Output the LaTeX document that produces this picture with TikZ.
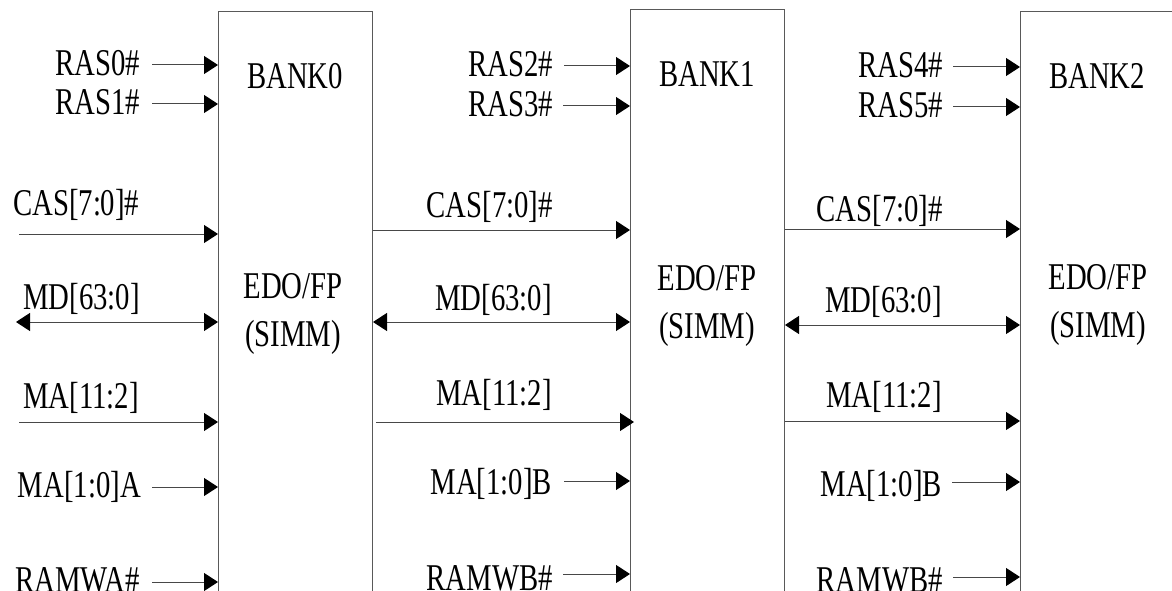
\documentclass[tikz,border=0pt]{standalone}
\usepackage{fontspec}
\setmainfont{Liberation Serif}[FakeStretch=0.76]
\usetikzlibrary{arrows.meta}
\begin{document}
\begin{tikzpicture}[x=1pt,y=-1pt,
  bankbox/.style={draw=black!65, line width=1pt, minimum width=154pt,
    minimum height=640pt, anchor=north west, inner sep=0pt},
  lbl/.style={inner sep=0pt, font=\fontsize{37.8pt}{46pt}\selectfont},
  tipa/.tip={Triangle[length=14pt,width=18pt,color=black]},
  sig/.style={draw=black!72, line width=1pt, -tipa},
  bus/.style={draw=black!72, line width=1pt, tipa-tipa},
]
\useasboundingbox (0,0) rectangle (1172,591);
\clip (0,0) rectangle (1172,591);

% memory banks
\node[bankbox] (bank0) at (218,11) {};
\node[bankbox] (bank1) at (630,9) {};
\node[bankbox] (bank2) at (1020,11) {};

\node[lbl, anchor=base] (b0name) at (295,89) {BANK0};
\node[lbl, anchor=base] (b0t1) at (293,298) {EDO/FP};
\node[lbl, anchor=base] (b0t2) at (293,346) {(SIMM)};
\node[lbl, anchor=base] (b1name) at (707,87) {BANK1};
\node[lbl, anchor=base] (b1t1) at (707,290) {EDO/FP};
\node[lbl, anchor=base] (b1t2) at (707,338) {(SIMM)};
\node[lbl, anchor=base] (b2name) at (1097,89) {BANK2};
\node[lbl, anchor=base] (b2t1) at (1098,289) {EDO/FP};
\node[lbl, anchor=base] (b2t2) at (1098,337) {(SIMM)};

% ---- bank 0 inputs
\node[lbl, anchor=base east] (ras0) at (140,76) {RAS0\#};
\node[lbl, anchor=base east] (ras1) at (140,115) {RAS1\#};
\node[lbl, anchor=base west] (cas0) at (13,215) {CAS[7:0]\#};
\node[lbl, anchor=base west] (md0) at (23,309) {MD[63:0]};
\node[lbl, anchor=base west] (ma0) at (23,408) {MA[11:2]};
\node[lbl, anchor=base east] (maa) at (141,497) {MA[1:0]A};
\node[lbl, anchor=base east] (rwa) at (140,592) {RAMWA\#};

\coordinate (s-ras0) at (152,65);
\coordinate (s-ras1) at (152,104);
\coordinate (s-cas0) at (19,234);
\coordinate (s-md0) at (16,322);
\coordinate (s-ma0) at (19,422);
\coordinate (s-maa) at (152,487);
\coordinate (s-rwa) at (152,582);

\draw[sig] (s-ras0) -- (s-ras0 -| bank0.west);
\draw[sig] (s-ras1) -- (s-ras1 -| bank0.west);
\draw[sig] (s-cas0) -- (s-cas0 -| bank0.west);
\draw[bus] (s-md0) -- (s-md0 -| bank0.west);
\draw[sig] (s-ma0) -- (s-ma0 -| bank0.west);
\draw[sig] (s-maa) -- (s-maa -| bank0.west);
\draw[sig] (s-rwa) -- (s-rwa -| bank0.west);

% ---- bank 1 inputs
\node[lbl, anchor=base east] (ras2) at (553,77) {RAS2\#};
\node[lbl, anchor=base east] (ras3) at (553,117) {RAS3\#};
\node[lbl, anchor=base east] (cas1) at (553,217) {CAS[7:0]\#};
\node[lbl, anchor=base east] (md1) at (552,310) {MD[63:0]};
\node[lbl, anchor=base east] (ma1) at (552,405) {MA[11:2]};
\node[lbl, anchor=base east] (mab1) at (552,494) {MA[1:0]B};
\node[lbl, anchor=base east] (rwb1) at (553,590) {RAMWB\#};

\coordinate (s-ras2) at (564,66);
\coordinate (s-ras3) at (563,106);
\coordinate (s-mab1) at (564,481);
\coordinate (s-rwb1) at (563,574);

\draw[sig] (s-ras2) -- (s-ras2 -| bank1.west);
\draw[sig] (s-ras3) -- (s-ras3 -| bank1.west);
\draw[sig] (bank0.east |- 0,230) -- (bank1.west |- 0,230);
\draw[bus] (bank0.east |- 0,322) -- (bank1.west |- 0,322);
\draw[sig] ([xshift=3pt]bank0.east |- 0,422) -- ([xshift=4pt]bank1.west |- 0,422);
\draw[sig] (s-mab1) -- (s-mab1 -| bank1.west);
\draw[sig] (s-rwb1) -- (s-rwb1 -| bank1.west);

% ---- bank 2 inputs
\node[lbl, anchor=base east] (ras4) at (943,78) {RAS4\#};
\node[lbl, anchor=base east] (ras5) at (943,118) {RAS5\#};
\node[lbl, anchor=base east] (cas2) at (943,221) {CAS[7:0]\#};
\node[lbl, anchor=base east] (md2) at (942,312) {MD[63:0]};
\node[lbl, anchor=base east] (ma2) at (942,407) {MA[11:2]};
\node[lbl, anchor=base east] (mab2) at (942,496) {MA[1:0]B};
\node[lbl, anchor=base east] (rwb2) at (943,592) {RAMWB\#};

\coordinate (s-ras4) at (953,67);
\coordinate (s-ras5) at (953,107);
\coordinate (s-mab2) at (952,482);
\coordinate (s-rwb2) at (953,577);

\draw[sig] (s-ras4) -- (s-ras4 -| bank2.west);
\draw[sig] (s-ras5) -- (s-ras5 -| bank2.west);
\draw[sig] (bank1.east |- 0,229) -- (bank2.west |- 0,229);
\draw[bus] (bank1.east |- 0,325) -- (bank2.west |- 0,325);
\draw[sig] (bank1.east |- 0,421) -- (bank2.west |- 0,421);
\draw[sig] (s-mab2) -- (s-mab2 -| bank2.west);
\draw[sig] (s-rwb2) -- (s-rwb2 -| bank2.west);
\end{tikzpicture}
\end{document}
